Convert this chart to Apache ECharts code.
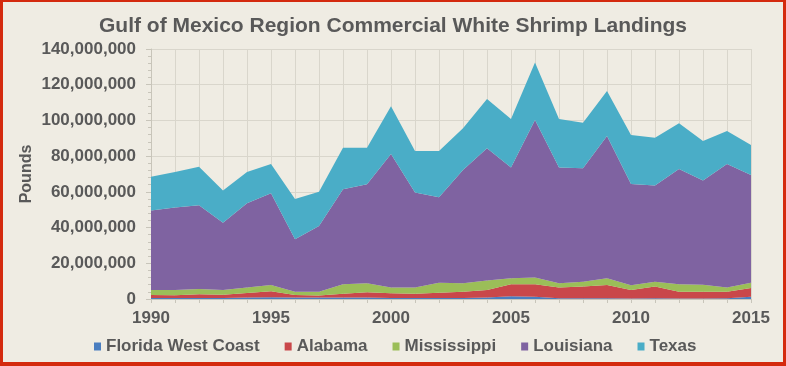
<!DOCTYPE html>
<html>
<head>
<meta charset="utf-8">
<script src="https://cdn.jsdelivr.net/npm/echarts@6/dist/echarts.min.js"></script>
<style>
html,body{margin:0;padding:0;background:#EFECE3;}
#chart{position:absolute;left:0;top:0;width:786px;height:366px;}
#frame{position:absolute;left:0;top:0;width:786px;height:366px;box-sizing:border-box;border-style:solid;border-color:#D42A0E;border-width:2px 3px 4px 3px;pointer-events:none;}
</style>
</head>
<body>
<div id="chart"></div>
<div id="frame"></div>
<script>
const years = ['1990','1991','1992','1993','1994','1995','1996','1997','1998','1999','2000','2001','2002','2003','2004','2005','2006','2007','2008','2009','2010','2011','2012','2013','2014','2015'];
const florida = [500000,500000,500000,600000,800000,1000000,800000,800000,900000,800000,600000,500000,500000,600000,900000,1600000,1300000,400000,400000,400000,300000,400000,300000,300000,400000,1200000];
const alabama = [1700000,1600000,2100000,1800000,2500000,3300000,1400000,1200000,2100000,3000000,2600000,2500000,3000000,3500000,4100000,6600000,6900000,6100000,6600000,7400000,4700000,6600000,3800000,3800000,3700000,5000000];
const mississippi = [2800000,2900000,3000000,2600000,3200000,3500000,1900000,2100000,5200000,5000000,3300000,3500000,5600000,4700000,5300000,3400000,3800000,2300000,2700000,3800000,2700000,2700000,4100000,3900000,2400000,2900000];
const louisiana = [44500000,46300000,46900000,37700000,47100000,51400000,29300000,36800000,53200000,55400000,74700000,53200000,47900000,63500000,74100000,62100000,88200000,64900000,63500000,79700000,56700000,53800000,64600000,58300000,69100000,60300000];
const texas = [19000000,19800000,21600000,18000000,17500000,16400000,22600000,19200000,23300000,20500000,26800000,23200000,25900000,23300000,27600000,27100000,32300000,27100000,25500000,25200000,27400000,26800000,25600000,22200000,18500000,16800000];
const seriesNames = ['Florida West Coast','Alabama','Mississippi','Louisiana','Texas'];
const seriesData = [florida, alabama, mississippi, louisiana, texas];
const colors = ['#4A7EC0','#C9474A','#9BBE58','#7F63A1','#4AADC7'];

const FONT = '"Liberation Sans", Arial, sans-serif';
const TXT = '#595959';
const chart = echarts.init(document.getElementById('chart'), null, {renderer:'canvas'});
chart.setOption({
  backgroundColor: '#EFECE3',
  animation: false,
  color: colors,
  title: {
    text: 'Gulf of Mexico Region Commercial White Shrimp Landings',
    left: 'center', top: 11,
    textStyle: {fontFamily: FONT, fontWeight: 'bold', fontSize: 21, color: TXT}
  },
  legend: {
    left: 89, top: 333,
    itemWidth: 7, itemHeight: 8, itemGap: 25,
    icon: 'rect',
    data: seriesNames,
    textStyle: {fontFamily: FONT, fontWeight: 'bold', fontSize: 17, color: TXT}
  },
  grid: {left: 151, right: 35, top: 49, bottom: 67},
  xAxis: {
    type: 'category', data: years, boundaryGap: false,
    axisLine: {show: true, lineStyle: {color: '#C8C5BA'}},
    axisTick: {show: true, interval: 0, length: 4, lineStyle: {color: '#C8C5BA'}},
    axisLabel: {interval: 4, margin: 11, fontFamily: FONT, fontWeight: 'bold', fontSize: 17, color: TXT},
    splitLine: {show: true, interval: 0, lineStyle: {color: '#D9D6CC', width: 1}}
  },
  yAxis: {
    type: 'value', min: 0, max: 140000000, interval: 20000000,
    name: 'Pounds', nameLocation: 'middle', nameGap: 116, nameRotate: 90,
    nameMoveOverlap: false,
    nameTextStyle: {fontFamily: FONT, fontWeight: 'bold', fontSize: 16, color: TXT},
    axisLine: {show: true, lineStyle: {color: '#C8C5BA'}},
    axisTick: {show: true, length: 5, lineStyle: {color: '#C8C5BA'}},
    minorTick: {show: true, splitNumber: 5, length: 3, lineStyle: {color: '#C8C5BA'}},
    axisLabel: {margin: 15, fontFamily: FONT, fontWeight: 'bold', fontSize: 17, color: TXT,
      formatter: v => v.toLocaleString('en-US')},
    splitLine: {show: true, lineStyle: {color: '#D9D6CC', width: 1}}
  },
  series: seriesNames.map((n, i) => ({
    name: n, type: 'line', stack: 'total', data: seriesData[i],
    symbol: 'none', showSymbol: false,
    lineStyle: {width: 0},
    areaStyle: {color: colors[i], opacity: 1},
    itemStyle: {color: colors[i]}
  }))
});
</script>
</body>
</html>
